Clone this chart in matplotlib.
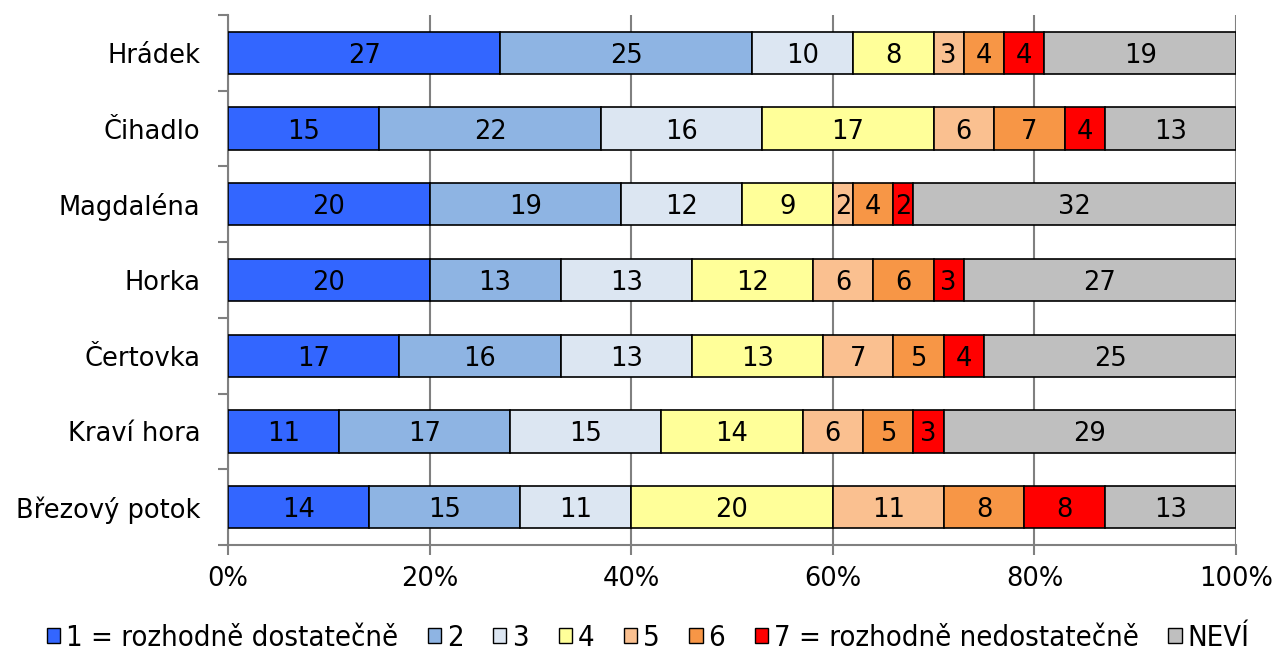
import matplotlib
matplotlib.use("Agg")
import matplotlib.pyplot as plt
import numpy as np
from matplotlib import font_manager

categories = ["Hrádek", "Čihadlo", "Magdaléna", "Horka", "Čertovka", "Kraví hora", "Březový potok"]
series_names = ["1 = rozhodně dostatečně", "2", "3", "4", "5", "6", "7 = rozhodně nedostatečně", "NEVÍ"]
s1 = [27, 15, 20, 20, 17, 11, 14]
s2 = [25, 22, 19, 13, 16, 17, 15]
s3 = [10, 16, 12, 13, 13, 15, 11]
s4 = [8, 17, 9, 12, 13, 14, 20]
s5 = [3, 6, 2, 6, 7, 6, 11]
s6 = [4, 7, 4, 6, 5, 5, 8]
s7 = [4, 4, 2, 3, 4, 3, 8]
nevi = [19, 13, 32, 27, 25, 29, 13]
colors = ["#3366FF", "#8EB4E3", "#DCE6F2", "#FFFF99", "#FAC090", "#F79646", "#FF0000", "#BFBFBF"]
xticks = [0, 20, 40, 60, 80, 100]
xtick_labels = ["0%", "20%", "40%", "60%", "80%", "100%"]

series = [s1, s2, s3, s4, s5, s6, s7, nevi]

fig = plt.figure(figsize=(12.76, 6.53), dpi=100)
ax = fig.add_axes([228/1276, 1-545/653, (1236-228)/1276, (545-15)/653])

y = np.arange(len(categories))
left = np.zeros(len(categories))
for name, vals, c in zip(series_names, series, colors):
    vals = np.array(vals, dtype=float)
    ax.barh(y, vals, left=left, height=0.56, color=c, edgecolor="black", linewidth=1.2, label=name, zorder=3)
    for yi, l, v in zip(y, left, vals):
        ax.text(l + v/2, yi + 0.04, f"{int(v)}", ha="center", va="center", fontsize=18.5, color="black", zorder=4)
    left += vals

ax.set_xlim(0, 100)
ax.set_ylim(len(categories)-0.5, -0.5)
ax.set_xticks(xticks)
ax.set_xticklabels(xtick_labels, fontsize=18.5)
ax.set_yticks(y)
ax.set_yticklabels(categories, fontsize=18.5)
ax.set_yticks(np.arange(len(categories)+1) - 0.5, minor=True)
ax.tick_params(axis="y", which="major", length=0, pad=20)
ax.tick_params(axis="y", which="minor", length=7, color="#808080", width=1.5)
ax.tick_params(axis="x", which="major", length=7, color="#808080", width=1.5, direction="out", pad=8)
ax.grid(axis="x", color="#808080", linewidth=1.5, zorder=0)
for s in ["top", "right"]:
    ax.spines[s].set_visible(False)
for s in ["left", "bottom"]:
    ax.spines[s].set_color("#808080")
    ax.spines[s].set_linewidth(1.5)

leg_font = font_manager.FontProperties(family="DejaVu Sans", stretch="condensed", size=21)
leg = fig.legend(loc="center", bbox_to_anchor=(0.508, 1-638/653), ncol=8, frameon=False,
                 prop=leg_font, handlelength=0.45, handleheight=0.45, handletextpad=0.2,
                 columnspacing=1.02)
for h in leg.legend_handles:
    h.set_linewidth(1.0)

fig.savefig("out.png", dpi=100)
